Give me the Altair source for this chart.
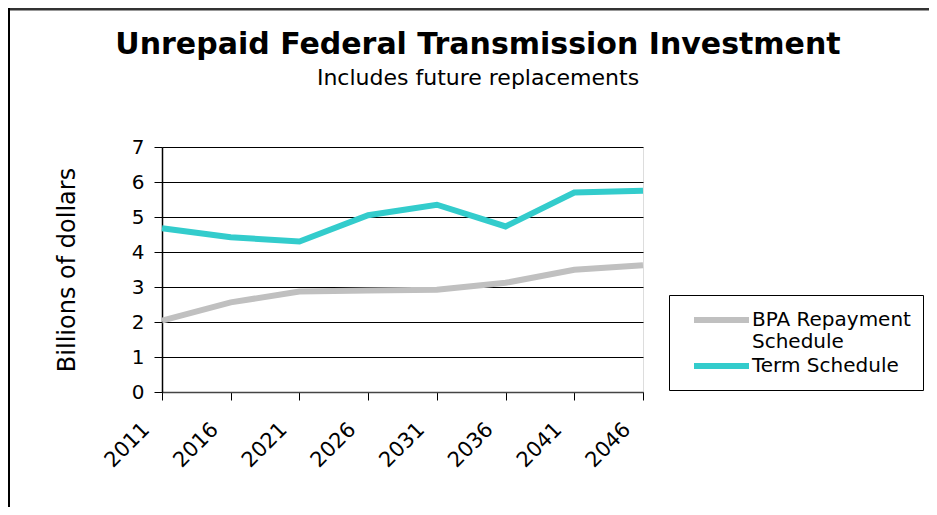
import altair as alt
import pandas as pd

years = ["2011", "2016", "2021", "2026", "2031", "2036", "2041", "2046"]
bpa = [2.04, 2.56, 2.87, 2.90, 2.92, 3.12, 3.49, 3.62]
term = [4.68, 4.42, 4.30, 5.05, 5.35, 4.73, 5.70, 5.75]
series_names = ["BPA Repayment Schedule", "Term Schedule"]
colors = ["#c0c0c0", "#33cccc"]
y_ticks = [0, 1, 2, 3, 4, 5, 6, 7]
title_text = "Unrepaid Federal Transmission Investment"
subtitle_text = "Includes future replacements"
y_title = "Billions of dollars"

rows = []
for name, vals in zip(series_names, [bpa, term]):
    for yr, v in zip(years, vals):
        rows.append({"year": yr, "value": v, "series": name})
df = pd.DataFrame(rows)

FONT = "DejaVu Sans"

lines = alt.Chart(df).mark_line(strokeWidth=6, strokeCap="butt").encode(
    x=alt.X("year:O", sort=years,
            scale=alt.Scale(type="point", padding=0),
            axis=alt.Axis(title=None, labelAngle=-45, labelAlign="right",
                          labelBaseline="middle", labelFontSize=21, labelFont=FONT,
                          labelColor="black", labelPadding=26, labelOffset=-16,
                          tickSize=8, tickColor="black", domainColor="#444",
                          domainWidth=1.5, grid=False)),
    y=alt.Y("value:Q", scale=alt.Scale(domain=[0, 7], nice=False),
            axis=alt.Axis(values=y_ticks, title=y_title,
                          titleFontSize=24, titleFont=FONT, titleFontWeight="normal",
                          titleColor="black", titlePadding=52,
                          labelFontSize=20, labelFont=FONT, labelColor="black",
                          labelPadding=10, tickSize=8, tickColor="black",
                          domainColor="black", domainWidth=1.5,
                          grid=True, gridColor="black", gridWidth=1)),
    color=alt.Color("series:N",
                    scale=alt.Scale(domain=series_names, range=colors),
                    legend=alt.Legend(title=None, orient="none", legendX=507, legendY=148,
                                      symbolType="M-2.75,0L2.75,0", symbolSize=400,
                                      symbolStrokeWidth=6, symbolOffset=27.5,
                                      labelOffset=17.5, labelFontSize=20,
                                      labelFont=FONT, labelColor="black", labelLimit=300,
                                      labelExpr="datum.label == 'BPA Repayment Schedule' ? ['BPA Repayment', 'Schedule'] : datum.label",
                                      strokeColor="black", fillColor="white",
                                      padding=12, rowPadding=1))
)

title_df = pd.DataFrame({"t": [title_text]})
subtitle_df = pd.DataFrame({"t": [subtitle_text]})
title_mark = alt.Chart(title_df).mark_text(
    font=FONT, fontSize=30, fontWeight="bold", color="black", baseline="middle", align="center"
).encode(text="t:N", x=alt.value(316), y=alt.value(-102))
subtitle_mark = alt.Chart(subtitle_df).mark_text(
    font=FONT, fontSize=22, color="black", baseline="middle", align="center"
).encode(text="t:N", x=alt.value(316), y=alt.value(-69))

frame_top = alt.Chart(title_df).mark_rule(color="#333", strokeWidth=3).encode(
    x=alt.value(-154), x2=alt.value(800), y=alt.value(-138))
frame_left = alt.Chart(title_df).mark_rule(color="black", strokeWidth=2).encode(
    x=alt.value(-153), y=alt.value(-139), y2=alt.value(400))

chart = alt.layer(frame_top, frame_left, title_mark, subtitle_mark, lines).properties(
    width=481, height=245,
    padding={"left": 154, "top": 139, "right": 286, "bottom": 115},
    autosize=alt.AutoSizeParams(type="none"),
).configure_view(stroke="#888", strokeWidth=2).configure(background="white")

chart.save("out.html", embed_options={"renderer": "svg", "actions": False})
